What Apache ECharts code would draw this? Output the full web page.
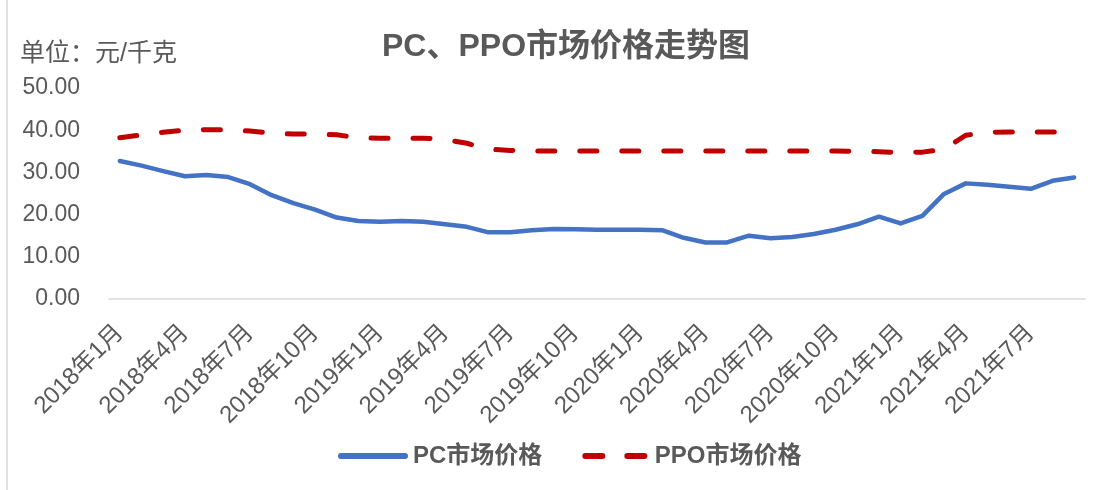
<!DOCTYPE html>
<html>
<head>
<meta charset="utf-8">
<script src="https://cdn.jsdelivr.net/npm/echarts@6/dist/echarts.min.js"></script>
<style>
html,body{margin:0;padding:0;background:#fff;}
#chart{width:1110px;height:490px;}
</style>
</head>
<body>
<div id="chart"></div>
<script>
var categories = [
  '2018年1月','2018年2月','2018年3月','2018年4月','2018年5月','2018年6月','2018年7月','2018年8月','2018年9月','2018年10月','2018年11月','2018年12月',
  '2019年1月','2019年2月','2019年3月','2019年4月','2019年5月','2019年6月','2019年7月','2019年8月','2019年9月','2019年10月','2019年11月','2019年12月',
  '2020年1月','2020年2月','2020年3月','2020年4月','2020年5月','2020年6月','2020年7月','2020年8月','2020年9月','2020年10月','2020年11月','2020年12月',
  '2021年1月','2021年2月','2021年3月','2021年4月','2021年5月','2021年6月','2021年7月','2021年8月','2021年9月'
];
var pcPrice = [
  32.7,31.6,30.3,29.1,29.4,28.9,27.2,24.6,22.7,21.2,19.3,18.5,
  18.3,18.5,18.3,17.7,17.1,15.8,15.8,16.3,16.6,16.5,16.4,16.4,
  16.4,16.3,14.5,13.4,13.4,15.0,14.4,14.7,15.4,16.4,17.7,19.5,
  17.9,19.7,24.9,27.4,27.1,26.6,26.1,28.0,28.8
];
var ppoPrice = [
  38.2,38.9,39.5,40.0,40.1,40.1,39.8,39.3,39.1,39.1,38.9,38.2,
  38.1,38.1,38.1,37.8,36.9,35.5,35.2,35.1,35.1,35.1,35.1,35.1,
  35.1,35.1,35.1,35.1,35.1,35.1,35.1,35.1,35.1,35.1,35.0,34.9,
  34.7,34.8,35.5,38.8,39.5,39.6,39.6,39.6,39.6
];
var seriesNames = ['PC市场价格','PPO市场价格'];
var titleText = 'PC、PPO市场价格走势图';
var unitText = '单位：元/千克';

var FONT = '"Liberation Sans", Arial, "Noto Sans CJK SC", sans-serif';
var solidIcon = 'path://M3,0 H69 A3,3 0 0 1 69,6 H3 A3,3 0 0 1 3,0 Z';
var dashIcon = 'path://M3,0 H20 A3,3 0 0 1 20,6 H3 A3,3 0 0 1 3,0 Z M45,0 H62 A3,3 0 0 1 62,6 H45 A3,3 0 0 1 45,0 Z';
var chart = echarts.init(document.getElementById('chart'), null, {renderer:'canvas'});
chart.setOption({
  backgroundColor: '#ffffff',
  animation: false,
  title: [
    {text: titleText, left: 377, top: 26,
     textStyle: {fontFamily: FONT, fontSize: 32, fontWeight: 'bold', color: '#595959'}},
    {text: unitText, left: 15, top: 37,
     textStyle: {fontFamily: FONT, fontSize: 25, fontWeight: 'normal', color: '#595959'}}
  ],
  graphic: [
    {type: 'line', shape: {x1: 7, y1: 0, x2: 7, y2: 490},
     style: {stroke: '#d9d9d9', lineWidth: 1.5}}
  ],
  legend: {
    bottom: 17, left: 333,
    itemWidth: 70, itemHeight: 6, itemGap: 40,
    textStyle: {fontFamily: FONT, fontSize: 24, fontWeight: 'bold', color: '#595959'},
    data: [
      {name: seriesNames[0], icon: solidIcon, itemStyle: {color: '#4472C4'}},
      {name: seriesNames[1], icon: dashIcon, itemStyle: {color: '#C00000'}}
    ]
  },
  grid: {left: 109, right: 25, top: 88, bottom: 191, containLabel: false},
  xAxis: {
    type: 'category',
    data: categories,
    boundaryGap: true,
    axisLine: {show: true, lineStyle: {color: '#d9d9d9', width: 1.5}},
    axisTick: {show: false},
    axisLabel: {interval: 2, rotate: 45, margin: 30,
      fontFamily: FONT, fontSize: 24, color: '#595959'}
  },
  yAxis: {
    type: 'value', min: 0, max: 50, interval: 10,
    axisLine: {show: false}, axisTick: {show: false},
    splitLine: {show: false},
    axisLabel: {margin: 29, fontFamily: FONT, fontSize: 23, color: '#595959',
      formatter: function(v){ return v.toFixed(2); }}
  },
  series: [
    {name: seriesNames[0], type: 'line', data: pcPrice, symbol: 'none', smooth: false,
     lineStyle: {color: '#4472C4', width: 4.5, cap: 'round', join: 'round'},
     itemStyle: {color: '#4472C4'}},
    {name: seriesNames[1], type: 'line', data: ppoPrice, symbol: 'none', smooth: false,
     lineStyle: {color: '#C00000', width: 5, type: [17, 25], cap: 'round', join: 'round'},
     itemStyle: {color: '#C00000'}}
  ]
});
</script>
</body>
</html>
